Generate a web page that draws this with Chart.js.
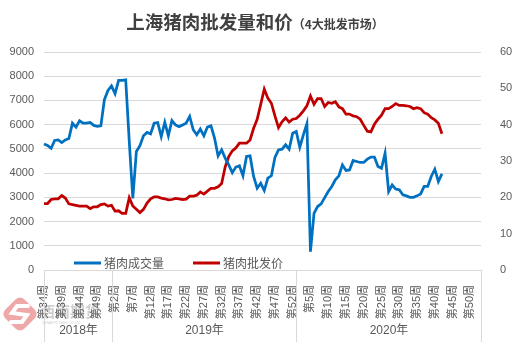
<!DOCTYPE html>
<html>
<head>
<meta charset="utf-8">
<script src="https://cdn.jsdelivr.net/npm/chart.js@4/dist/chart.umd.min.js"></script>
<style>
  html, body { margin: 0; padding: 0; background: #fff; }
  #wrap { width: 513px; height: 342px; }
</style>
</head>
<body>
<div id="wrap"><canvas id="chart" width="513" height="342"></canvas></div>
<script>
/* week categories: 2018 wk34 .. 2020 wk53 */
const YEARS = ["2018年", "2019年", "2020年"];
const WEEK_FROM = [34, 1, 1];
const WEEK_TO = [52, 52, 53];

/* 猪肉成交量 (left axis) */
const VOLUME = [
  5200, 5140, 5020, 5350, 5370, 5260, 5370, 5430, 6060, 5900,
  6160, 6060, 6060, 6090, 5970, 5930, 5950, 7030, 7410, 7600,
  7280, 7830, 7830, 7850, 5300, 2960, 4890, 5130, 5540, 5680,
  5620, 6060, 6090, 5510, 6100, 5540, 6170, 5990, 5920, 5990,
  6060, 6340, 5790, 5580, 5820, 5540, 5900, 5950, 5450, 4710,
  4960, 4620, 4340, 4020, 4250, 4300, 3890, 4690, 4710, 3860,
  3375, 3580, 3280, 3790, 3890, 4650, 4960, 4990, 5170, 4990,
  5650, 5720, 5070, 5580, 6040, 760, 2340, 2620, 2730, 2990,
  3240, 3450, 3720, 3890, 4340, 4110, 4130, 4520, 4480, 4440,
  4440, 4575, 4660, 4660, 4270, 4200, 4820, 3240, 3510, 3340,
  3310, 3100, 3060, 3000, 3000, 3060, 3140, 3450, 3450, 3860,
  4160, 3650, 3970
];

/* 猪肉批发价 (right axis) */
const PRICE = [
  18.3, 18.3, 19.4, 19.6, 19.6, 20.5, 19.8, 18.2, 18.0, 17.8,
  17.6, 17.6, 17.6, 16.9, 17.4, 17.4, 18.0, 18.2, 17.6, 17.8,
  16.2, 16.3, 15.6, 15.6, 19.9, 17.6, 16.7, 15.8, 16.7, 18.4,
  19.6, 20.1, 20.1, 19.8, 19.6, 19.3, 19.4, 19.7, 19.6, 19.4,
  19.5, 20.3, 20.3, 20.6, 21.5, 20.9, 21.7, 22.5, 22.5, 22.9,
  23.8, 28.4, 31.2, 32.8, 33.6, 34.9, 34.9, 34.9, 35.8, 39.0,
  41.5, 45.6, 49.8, 47.3, 45.9, 42.4, 39.2, 40.8, 41.9, 40.7,
  41.5, 41.7, 42.6, 43.8, 45.2, 47.9, 45.6, 47.2, 47.2, 45.0,
  46.1, 45.9, 46.3, 44.9, 44.4, 42.9, 42.9, 42.4, 42.2, 41.5,
  39.8, 38.2, 38.0, 40.1, 41.5, 42.6, 44.4, 44.4, 45.0, 45.8,
  45.3, 45.3, 45.2, 45.0, 44.4, 44.7, 44.4, 43.3, 42.9, 41.9,
  41.3, 40.4, 37.5
];

const SERIES_NAMES = ["猪肉成交量", "猪肉批发价"];
const COLORS = ["#0070C0", "#C00000"];

/* build labels + year start indices */
const labels = [];
const yearStart = [];
YEARS.forEach((y, k) => {
  yearStart.push(labels.length);
  for (let w = WEEK_FROM[k]; w <= WEEK_TO[k]; w++) labels.push("第" + w + "周");
});
yearStart.push(labels.length - 1);

const TXT = "#595959";
const GRID = "#d9d9d9";
const FONT = "'Liberation Sans', 'Noto Sans CJK SC', sans-serif";

/* watermark logo, behind everything */
const logoPlugin = {
  id: "logo",
  beforeDraw(c) {
    const ctx = c.ctx;
    ctx.save();
    ctx.translate(20, 314);
    ctx.rotate(Math.PI / 4);
    ctx.fillStyle = "rgba(226,110,110,0.6)";
    const s = 27, r = 6;
    ctx.beginPath();
    ctx.moveTo(-s/2 + r, -s/2);
    ctx.arcTo(s/2, -s/2, s/2, s/2, r);
    ctx.arcTo(s/2, s/2, -s/2, s/2, r);
    ctx.arcTo(-s/2, s/2, -s/2, -s/2, r);
    ctx.arcTo(-s/2, -s/2, s/2, -s/2, r);
    ctx.fill();
    ctx.restore();
    ctx.save();
    ctx.strokeStyle = "#fff";
    ctx.lineWidth = 4;
    ctx.lineCap = "round";
    ctx.beginPath();
    ctx.moveTo(28, 306);
    ctx.lineTo(17, 306);
    ctx.lineTo(12, 313);
    ctx.lineTo(27, 315);
    ctx.lineTo(22, 322);
    ctx.lineTo(11, 322);
    ctx.stroke();
    ctx.fillStyle = "#cfcfcf";
    ctx.font = "bold 15px 'Noto Sans CJK SC'";
    ctx.textBaseline = "middle";
    ctx.fillText("西南期货", 40, 311);
    ctx.font = "3px 'Liberation Sans'";
    ctx.fillText("SHINAN FUTURES CO.,LTD", 42, 323);
    ctx.restore();
  }
};

/* title, year groups, legend */
const decorPlugin = {
  id: "decor",
  afterDraw(c) {
    const ctx = c.ctx;
    const xs = c.scales.x;
    const bottom = c.chartArea.bottom;
    ctx.save();

    // title
    ctx.fillStyle = "#404040";
    ctx.textBaseline = "alphabetic";
    ctx.font = "bold 18.5px 'Noto Sans CJK SC'";
    const t1 = "上海猪肉批发量和价";
    const t2 = "（4大批发市场）";
    const w1 = ctx.measureText(t1).width;
    ctx.font = "bold 12px 'Noto Sans CJK SC'";
    const w2 = ctx.measureText(t2).width;
    let tx = 255 - (w1 + w2) / 2;
    ctx.font = "bold 18.5px 'Noto Sans CJK SC'";
    ctx.fillText(t1, tx, 29);
    ctx.font = "bold 12px 'Noto Sans CJK SC'";
    ctx.fillText(t2, tx + w1, 29);

    // year group dividers and names
    ctx.strokeStyle = GRID;
    ctx.lineWidth = 1;
    const px = yearStart.map(i => Math.round(xs.getPixelForValue(i)) + 0.5);
    px.forEach(x => {
      ctx.beginPath();
      ctx.moveTo(x, bottom);
      ctx.lineTo(x, 342);
      ctx.stroke();
    });
    ctx.fillStyle = TXT;
    ctx.font = "12px " + FONT;
    ctx.textAlign = "center";
    ctx.textBaseline = "middle";
    YEARS.forEach((y, k) => ctx.fillText(y, (px[k] + px[k + 1]) / 2, 331));

    // legend
    ctx.textAlign = "left";
    ctx.font = "12px 'Noto Sans CJK SC'";
    const lx = [74, 193];
    SERIES_NAMES.forEach((n, k) => {
      ctx.strokeStyle = COLORS[k];
      ctx.lineWidth = 3;
      ctx.beginPath();
      ctx.moveTo(lx[k], 263);
      ctx.lineTo(lx[k] + 27, 263);
      ctx.stroke();
      ctx.fillStyle = TXT;
      ctx.fillText(n, lx[k] + 30, 263);
    });
    ctx.restore();
  }
};

new Chart(document.getElementById("chart"), {
  type: "line",
  data: {
    labels,
    datasets: [
      { label: SERIES_NAMES[0], data: VOLUME, yAxisID: "y",
        borderColor: COLORS[0], borderWidth: 2.75, pointRadius: 0, tension: 0 },
      { label: SERIES_NAMES[1], data: PRICE, yAxisID: "y1",
        borderColor: COLORS[1], borderWidth: 2.75, pointRadius: 0, tension: 0 }
    ]
  },
  options: {
    responsive: false,
    animation: false,
    devicePixelRatio: 1,
    layout: { padding: { top: 52, left: 0, right: 0, bottom: 0 } },
    plugins: {
      legend: { display: false },
      title: { display: false },
      tooltip: { enabled: false }
    },
    scales: {
      x: {
        type: "category",
        offset: false,
        grid: { display: false },
        border: { display: true, color: GRID, width: 1 },
        ticks: {
          autoSkip: false,
          maxRotation: 90,
          minRotation: 90,
          padding: 7,
          color: TXT,
          font: { size: 11, family: FONT },
          callback: (v, i) => (i % 5 === 0 ? labels[i] : "")
        },
        afterFit: s => { s.height = 72; }
      },
      y: {
        position: "left",
        min: 0, max: 9000,
        grid: { color: GRID, drawTicks: false },
        border: { display: false },
        ticks: { stepSize: 1000, color: TXT, padding: 10, font: { size: 11, family: FONT },
                 callback: v => String(v) },
        afterFit: s => { s.width = 44; }
      },
      y1: {
        position: "right",
        min: 0, max: 60,
        grid: { display: false },
        border: { display: false },
        ticks: { stepSize: 10, color: TXT, padding: 11, font: { size: 11, family: FONT },
                 callback: v => String(v) },
        afterFit: s => { s.width = 32; }
      }
    }
  },
  plugins: [logoPlugin, decorPlugin]
});
</script>
</body>
</html>
